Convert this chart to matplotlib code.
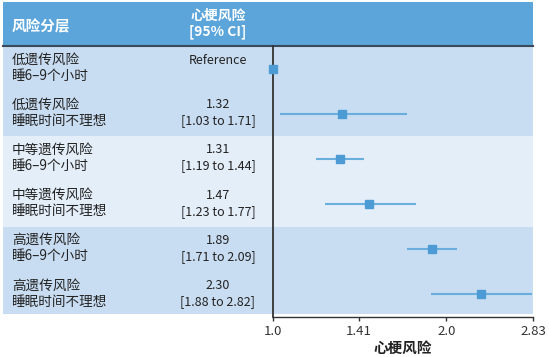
import matplotlib
matplotlib.use("Agg")
import matplotlib.pyplot as plt
from matplotlib.patches import Rectangle

plt.rcParams['font.family'] = ['Noto Sans CJK SC', 'DejaVu Sans']

# ---- data ----
row_labels = [
    "低遗传风险\n睡6–9个小时",
    "低遗传风险\n睡眠时间不理想",
    "中等遗传风险\n睡6–9个小时",
    "中等遗传风险\n睡眠时间不理想",
    "高遗传风险\n睡6–9个小时",
    "高遗传风险\n睡眠时间不理想",
]
hr = [1.00, 1.32, 1.31, 1.47, 1.89, 2.30]
ci_low = [None, 1.03, 1.19, 1.23, 1.71, 1.88]
ci_high = [None, 1.71, 1.44, 1.77, 2.09, 2.82]
hr_text = ["Reference", "1.32\n[1.03 to 1.71]", "1.31\n[1.19 to 1.44]",
           "1.47\n[1.23 to 1.77]", "1.89\n[1.71 to 2.09]", "2.30\n[1.88 to 2.82]"]
xticks = [1.0, 1.41, 2.0, 2.83]
xtick_labels = ["1.0", "1.41", "2.0", "2.83"]
header_left = "风险分层"
header_mid = "心梗风险\n[95% CI]"
xlabel = "心梗风险"

W, H = 549, 357
fig = plt.figure(figsize=(W / 100, H / 100), dpi=100)

# background axes in pixel coordinates (y downward)
bg = fig.add_axes([0, 0, 1, 1])
bg.set_xlim(0, W)
bg.set_ylim(H, 0)
bg.axis('off')

header_c = '#5BA5DB'
band_dark = '#C9DDF2'
band_light = '#E4EEF9'

panel_left, panel_right = 3, 533
header_top, header_bot = 2, 46
panel_bot = 314
n = len(row_labels)
row_h = (317 - header_bot) / n

bg.add_patch(Rectangle((panel_left, header_top), panel_right - panel_left,
                       header_bot - header_top, color=header_c, lw=0))
band_colors = [band_dark, band_light, band_dark]
for b in range(3):
    y0 = header_bot + b * 2 * row_h
    y1 = min(y0 + 2 * row_h, panel_bot)
    bg.add_patch(Rectangle((panel_left, y0), panel_right - panel_left, y1 - y0,
                           color=band_colors[b], lw=0))
bg.plot([panel_left, panel_right], [header_bot, header_bot], color='#3a4a5a', lw=1.5)

bg.text(12, 26, header_left, color='white', fontsize=10.5, fontweight='bold',
        ha='left', va='center')
bg.text(218, 24, header_mid, color='white', fontsize=10, fontweight='bold',
        ha='center', va='center', linespacing=1.2)

for i in range(n):
    yc = header_bot + (i + 0.5) * row_h
    bg.text(12, yc - 1, row_labels[i], fontsize=9.8, ha='left', va='center',
            color='#222222', linespacing=1.2)
    if i == 0:
        bg.text(218, yc - 8, hr_text[i], fontsize=9, ha='center', va='center',
                color='#222222')
    else:
        bg.text(218, yc - 1, hr_text[i], fontsize=9, ha='center', va='center',
                color='#222222', linespacing=1.3)

# forest axes
ax_left, ax_right = 273, 533
ax_top, ax_bot = header_bot, 317
ax = fig.add_axes([ax_left / W, (H - ax_bot) / H, (ax_right - ax_left) / W,
                   (ax_bot - ax_top) / H])
ax.patch.set_alpha(0)
ax.set_xscale('log')
ax.set_xlim(1.0, 2.83)
ax.set_ylim(n - 0.5, -0.5)

line_c = '#6AAEDD'
mark_c = '#4D9BD5'
for i in range(n):
    if ci_low[i] is not None:
        ax.plot([ci_low[i], ci_high[i]], [i, i], color=line_c, lw=1.5,
                solid_capstyle='butt', clip_on=False)
    ax.plot([hr[i]], [i], marker='s', ms=6, color=mark_c, clip_on=False, zorder=5)

for s in ['top', 'right']:
    ax.spines[s].set_visible(False)
ax.spines['left'].set_color('#333333')
ax.spines['left'].set_linewidth(1.3)
ax.spines['bottom'].set_color('#333333')
ax.spines['bottom'].set_linewidth(1.0)
ax.set_yticks([])
ax.set_xticks(xticks)
ax.set_xticklabels(xtick_labels, fontsize=9.5, color='#333333')
ax.xaxis.set_minor_locator(matplotlib.ticker.NullLocator())
ax.tick_params(axis='x', length=3, width=1, color='#333333', pad=3)
ax.set_xlabel(xlabel, fontsize=10.5, fontweight='bold', labelpad=1, color='#222222')

fig.savefig('out.png', dpi=100)
